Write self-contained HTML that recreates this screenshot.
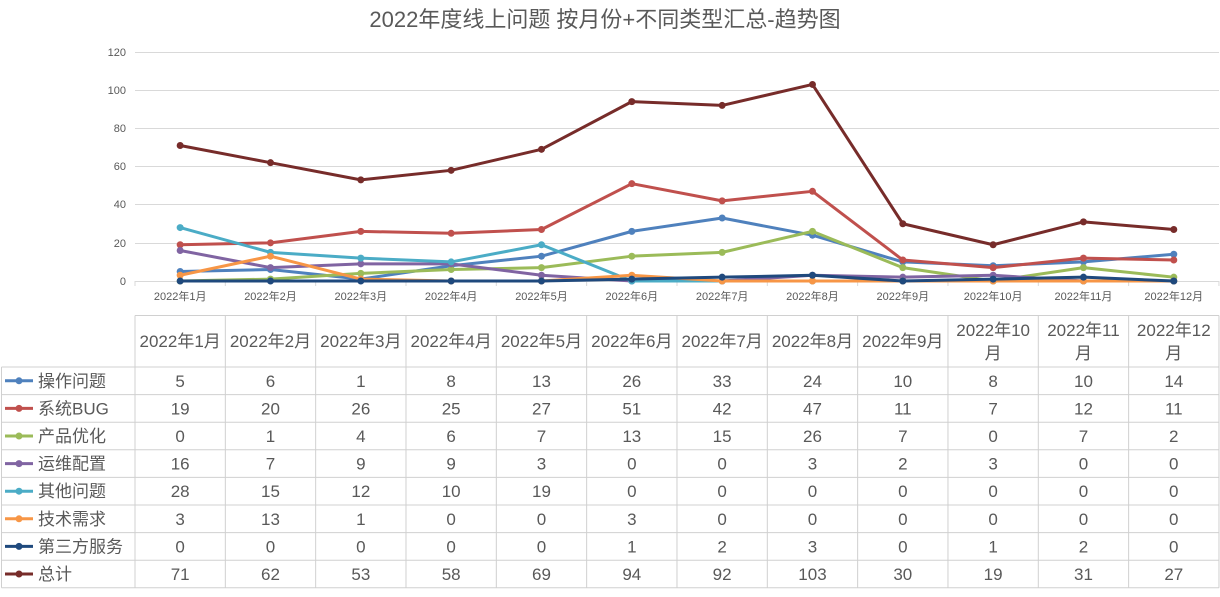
<!DOCTYPE html>
<html><head><meta charset="utf-8"><style>
body{margin:0;background:#fff;}
svg text{font-family:"Liberation Sans","Noto Sans CJK SC",sans-serif;fill:#595959;}
</style></head><body>
<svg width="1220" height="592" xmlns="http://www.w3.org/2000/svg">
<text x="605" y="27" font-size="22" text-anchor="middle">2022年度线上问题 按月份+不同类型汇总-趋势图</text>
<g stroke="#d9d9d9" stroke-width="1">
<line x1="135" x2="1219" y1="52.5" y2="52.5"/>
<line x1="135" x2="1219" y1="90.5" y2="90.5"/>
<line x1="135" x2="1219" y1="128.5" y2="128.5"/>
<line x1="135" x2="1219" y1="166.5" y2="166.5"/>
<line x1="135" x2="1219" y1="204.5" y2="204.5"/>
<line x1="135" x2="1219" y1="243.5" y2="243.5"/>
<line x1="135" x2="1219" y1="281.5" y2="281.5"/>
</g>
<g font-size="11" text-anchor="end">
<text x="126" y="56">120</text><text x="126" y="94">100</text><text x="126" y="132">80</text>
<text x="126" y="170">60</text><text x="126" y="208">40</text><text x="126" y="247">20</text><text x="126" y="285">0</text>
</g>
<g id="chart"></g>
<g id="table"></g>
</svg>
<script>
(function(){
var NS="http://www.w3.org/2000/svg";
var months=[];for(var i=1;i<=12;i++)months.push("2022年"+i+"月");
var series=[
["操作问题","#4f81bd",[5,6,1,8,13,26,33,24,10,8,10,14]],
["系统BUG","#c0504d",[19,20,26,25,27,51,42,47,11,7,12,11]],
["产品优化","#9bbb59",[0,1,4,6,7,13,15,26,7,0,7,2]],
["运维配置","#8064a2",[16,7,9,9,3,0,0,3,2,3,0,0]],
["其他问题","#4bacc6",[28,15,12,10,19,0,0,0,0,0,0,0]],
["技术需求","#f79646",[3,13,1,0,0,3,0,0,0,0,0,0]],
["第三方服务","#1f497d",[0,0,0,0,0,1,2,3,0,1,2,0]],
["总计","#772c2a",[71,62,53,58,69,94,92,103,30,19,31,27]]];
var cw=90.33,x0=135;
function cx(i){return x0+cw*(i+0.5);}
function cy(v){return 281-v*229/120;}
function el(t,a,txt){var e=document.createElementNS(NS,t);for(var k in a)e.setAttribute(k,a[k]);if(txt!==undefined)e.textContent=String(txt);return e;}
var ch=document.getElementById("chart"),tb=document.getElementById("table");
for(var i=0;i<=12;i++){ch.appendChild(el("line",{x1:x0+cw*i,x2:x0+cw*i,y1:281,y2:286,stroke:"#d9d9d9"}));}
months.forEach(function(m,i){ch.appendChild(el("text",{x:cx(i),y:300,"font-size":11,"text-anchor":"middle"},m));});
series.forEach(function(s){
 var pts=s[2].map(function(v,i){return cx(i)+","+cy(v);}).join(" ");
 ch.appendChild(el("polyline",{points:pts,fill:"none",stroke:s[1],"stroke-width":3,"stroke-linejoin":"round"}));
 s[2].forEach(function(v,i){ch.appendChild(el("circle",{cx:cx(i),cy:cy(v),r:3.5,fill:s[1]}));});
});
var g="#d0d0d0", tp=315.5, hb=367, rh=27.6, bot=hb+rh*8;
tb.appendChild(el("line",{x1:x0,x2:1219,y1:tp,y2:tp,stroke:g}));
for(var r=0;r<=8;r++){var y=hb+rh*r;tb.appendChild(el("line",{x1:1.5,x2:1219,y1:y,y2:y,stroke:g}));}
tb.appendChild(el("line",{x1:1.5,x2:1.5,y1:hb,y2:bot,stroke:g}));
for(var i=0;i<=12;i++){var x=x0+cw*i;tb.appendChild(el("line",{x1:x,x2:x,y1:tp,y2:bot,stroke:g}));}
months.forEach(function(m,i){
 if(i<9)tb.appendChild(el("text",{x:cx(i),y:347,"font-size":17,"text-anchor":"middle"},m));
 else{tb.appendChild(el("text",{x:cx(i),y:336,"font-size":17,"text-anchor":"middle"},"2022年"+(i+1)));
  tb.appendChild(el("text",{x:cx(i),y:359,"font-size":17,"text-anchor":"middle"},"月"));}
});
series.forEach(function(s,r){
 var y=hb+rh*r+rh/2;
 tb.appendChild(el("line",{x1:5,x2:33,y1:y,y2:y,stroke:s[1],"stroke-width":3}));
 tb.appendChild(el("circle",{cx:19,cy:y,r:3.5,fill:s[1]}));
 tb.appendChild(el("text",{x:38,y:y+6,"font-size":17},s[0]));
 s[2].forEach(function(v,i){tb.appendChild(el("text",{x:cx(i),y:y+6,"font-size":17,"text-anchor":"middle"},v));});
});
})();
</script>
</body></html>
